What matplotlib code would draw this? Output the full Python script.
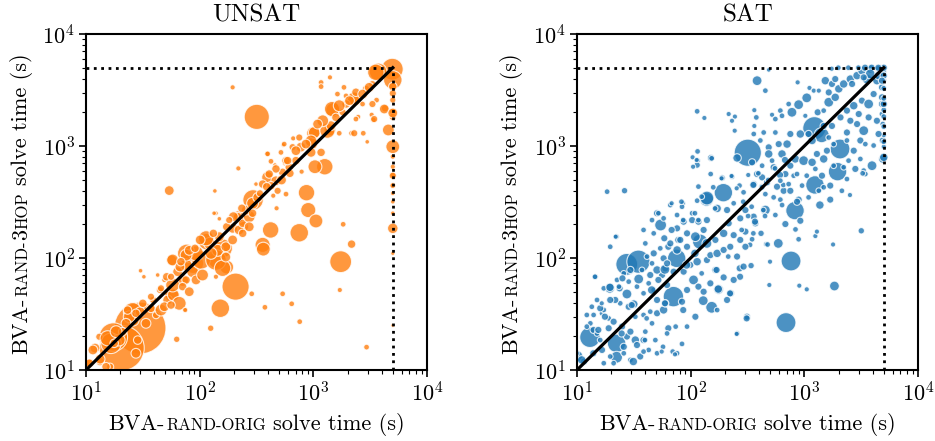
import matplotlib
matplotlib.use('Agg')
import matplotlib.pyplot as plt
import matplotlib.transforms as mtransforms

plt.rcParams['font.family'] = 'serif'
plt.rcParams['font.serif'] = ['cmr10']
plt.rcParams['mathtext.fontset'] = 'cm'
plt.rcParams['axes.formatter.use_mathtext'] = True
plt.rcParams['axes.unicode_minus'] = False

timeout = 5000

# solve times (s) per instance, marker area ~ instance size
unsat_x = [29.9, 20.6, 17.4, 318, 207, 1740, 152, 752, 421, 358, 363, 871, 902, 1054, 1260, 1033, 295, 115, 141, 88,
           77, 161, 173, 56.7, 70.8, 56.7, 54, 5000, 4570, 5000, 4950, 3720, 5000, 1500, 2240, 998, 966, 1400, 219, 242,
           26, 12, 10.8, 13.3, 16.3,
           5000, 5000, 5000, 5000, 5000, 5000, 5000, 5000, 5000, 5000, 5000, 5000, 5000, 5000,
           4270, 3260, 195, 1400, 1170, 1170, 2980, 1830, 2170, 1710, 2940, 759, 645, 537, 375, 287, 125, 62.8, 32.3, 30.2,
           74.2, 136, 139, 219, 313, 394, 459, 543, 563, 665, 789, 475, 444, 2170, 2750, 1690, 2480, 3370, 3600,
           16.6, 13.1, 11.5, 25.7, 24, 23.2, 19.6, 33.7, 37.3, 41.3, 45.7, 52.3, 58.7, 66.1, 75.9, 57.8, 86.7, 64, 75.9, 103,
           92.7, 57.8, 75.9, 81, 139, 159, 122, 144, 114, 170, 149, 195, 222, 239, 273, 257, 216, 292, 42.7, 48.9,
           74.6, 139, 134, 149, 13.3, 10.7, 15, 27.5, 28.5, 21,
           3550, 4210, 5000, 5000, 5000, 1460, 2290, 1020, 1330, 955, 396, 468, 537, 614, 703, 777, 955, 1170, 1430, 1580,
           1810, 1940, 2370, 2900, 3310, 1860, 1630, 1940, 3310, 2710, 3430, 2370, 2290, 752, 657, 554, 519, 396, 424, 575,
           358, 424, 485, 575, 324,
           198, 235, 339, 389, 525, 622, 173, 101, 132, 91, 67, 51.3, 44.7, 39, 29.9,
           15.5, 18.4, 48.9, 56, 70.8, 81, 92.9, 106, 126, 170, 195, 239, 273, 182, 292, 68.4, 56, 45.7, 37.3, 31.6,
           27.5, 22.5, 17.7,
           1210, 1090, 1690, 2080, 2720, 3100, 861, 703, 594, 469, 409]
unsat_y = [23.7, 15.7, 19.7, 1820, 55.5, 92.7, 35.6, 168, 178, 131, 120, 383, 268, 214, 653, 653, 330, 140, 95.5, 89.8,
           110, 122, 83, 46.8, 63, 95.5, 400, 986, 1390, 184, 4850, 4590, 3890, 2090, 2570, 1300, 1050, 1390, 234, 190,
           27.9, 15.7, 11.5, 11.9, 10.7,
           3390, 2950, 2570, 2020, 1820, 804, 653, 550, 447, 378, 318, 251, 110, 25,
           2170, 1900, 3340, 4100, 3690, 3390, 1090, 200, 133, 51.8, 16, 27, 39, 47.9, 36.3, 47.9, 23.6, 18.8, 68, 77,
           34.7, 397, 251, 631, 457, 851, 676, 1020, 700, 1170, 590, 278, 360, 1300, 1300, 1300, 1820, 1710, 2570,
           17.3, 19.8, 15.1, 33.1, 29.9, 34.3, 18.5, 26.1, 35.5, 30.9, 34.3, 42.2, 46.8, 39.4, 63.6, 57.4, 75.5, 75.5, 87, 96,
           110, 96, 106, 117, 96, 81, 135, 117, 150, 126, 155, 184, 178, 204, 234, 268, 234, 308, 70.5, 63.6,
           34.3, 68, 251, 224, 12.5, 11.5, 10.7, 14.1, 18.5, 22,
           4550, 2140, 1970, 543, 443, 2140, 2630, 1320, 1370, 1110, 525, 489, 582, 646, 741, 977, 877, 877, 1520, 1800,
           2000, 2370, 3020, 3240, 3570, 3340, 2910, 2800, 2370, 2370, 1740, 1740, 1300, 1190, 977, 1040, 877, 851, 730, 741,
           457, 442, 398, 372, 347,
           234, 278, 378, 433, 497, 570, 190, 145, 166, 122, 83.2, 68, 51.8, 42.2, 33.1,
           19.2, 22, 36.7, 38, 55.5, 50, 63.7, 70.5, 110, 102, 145, 166, 190, 218, 251, 92.7, 68, 53.6, 45.1, 39.4,
           32.1, 26.1, 17.3,
           1680, 1570, 2290, 2540, 2910, 3340, 1040, 908, 741, 624, 562]
unsat_s = [1294, 972, 368, 282, 332, 207, 144, 144, 111, 92, 75, 111, 92, 75, 111, 75, 180, 111, 111, 180,
           144, 144, 75, 75, 52, 39, 33, 75, 52, 39, 207, 130, 144, 92, 52, 66, 52, 52, 52, 39,
           52, 33, 23, 23, 15,
           23, 15, 10, 15, 15, 6, 6, 8, 6, 4, 4, 4, 3, 2,
           15, 6, 6, 6, 8, 8, 4, 8, 23, 6, 8, 8, 8, 8, 8, 8, 11, 11, 4, 4,
           4, 4, 4, 6, 4, 6, 4, 4, 6, 6, 6, 6, 6, 8, 8, 8, 6, 8, 8,
           180, 15, 33, 144, 52, 23, 52, 33, 23, 15, 52, 33, 52, 75, 23, 75, 52, 33, 52, 144,
           92, 52, 52, 33, 180, 111, 52, 52, 92, 33, 33, 33, 33, 23, 52, 33, 23, 52, 4, 6,
           6, 6, 4, 4, 33, 23, 23, 33, 23, 23,
           111, 33, 33, 15, 8, 92, 75, 52, 92, 52, 52, 33, 23, 23, 23, 33, 33, 23, 33, 23,
           15, 23, 23, 15, 15, 8, 8, 8, 15, 8, 15, 8, 15, 15, 15, 8, 8, 8, 8, 23,
           23, 23, 15, 8, 33,
           33, 23, 15, 23, 33, 23, 23, 33, 23, 23, 33, 23, 15, 15, 33,
           92, 52, 33, 23, 23, 33, 33, 52, 52, 33, 33, 23, 33, 15, 23, 23, 15, 15, 15, 23,
           23, 33, 23,
           52, 33, 52, 33, 33, 33, 33, 33, 23, 23, 23]

sat_x = [318, 1225, 1420, 2060, 1960, 1240, 828, 764, 690, 1840, 27.4, 34.7, 13, 22.3, 22.3, 70.5, 75.3, 121, 194, 138,
         54.4, 153, 129, 590, 1370,
         18.4, 26.2, 114, 132, 216, 245, 231, 244, 115, 104, 115, 114, 151, 256, 189, 231, 269, 158, 114, 85.7,
         139, 292,
         384, 454, 486, 873, 1110, 1210, 1340, 1530, 1750, 1050, 891, 728, 615, 520, 363, 378, 363, 556, 636, 778,
         1020, 1310, 1640, 1870, 2010, 2220, 2540, 2910, 3210, 3800, 4500, 3560, 4350, 4820, 4070, 3210, 2720, 3680, 4820, 4820,
         4820, 4900, 4900, 4900, 3940, 3330, 3110, 2720, 3330, 2910, 2370, 2540, 2080, 1750, 1480, 922, 753, 705, 595, 486,
         486, 636, 832, 986, 1170, 1290, 1580, 1480, 753, 681, 537, 520, 384, 425, 470, 359, 575, 658, 753, 955,
         1690, 2140, 2370, 891, 1690, 615, 454, 3440,
         10, 11.5, 14, 16, 16.6, 19, 19.6, 22.2, 24.9, 27.5, 29.5, 32.6, 33.7, 38.5, 39.9, 19.6, 17.2, 29.5, 36, 42.7,
         50.6, 57.1, 69.5, 75.9, 83.9, 73.8, 45.7, 50.6, 57.8, 38.5, 44.1, 32.6, 28.5, 24, 21.7, 17.2, 14, 13.1, 19.4, 27.5,
         31.6, 22.5, 14.5, 17.2, 33.7, 38.5, 42.7, 47.3, 34.9, 56, 62, 50.6, 59.8, 83.9, 92.9, 106, 117, 130, 176, 165,
         195, 226, 270, 313, 256, 86.7, 99.3, 114, 139, 149, 171, 195, 223, 273, 303, 239, 195, 165, 139, 110,
         92.9, 75.9, 86.7, 103, 117, 103, 75.9, 83.9, 66.2, 50.6, 38.5, 39.9, 41.3, 47.3, 57.8, 50.6, 59.8, 44.1, 29.5, 25.8,
         23.7, 16, 12.2, 15, 25.8, 21, 209, 171, 239,
         3170, 922, 416, 347, 460, 499, 340, 836, 891, 1250, 1290, 1790, 492, 903, 1050, 313, 454, 358, 371, 681,
         637, 556, 863, 320,
         9.6, 31.3, 14.4, 16.5, 19.5, 21.9, 52, 25.1, 23.4, 41, 39.6, 55.6, 72.8, 125, 214, 169, 175, 222, 272, 311,
         254, 475, 2520, 3260,
         5000, 5000, 5000, 5000, 5000, 5000, 5000, 5000, 5000, 5000, 5000, 5000, 5000,
         2990, 3420, 3910, 4480, 2440, 1990, 1740,
         150, 187, 229, 254, 321, 356, 394, 421, 482, 552, 611, 676, 653, 117, 109, 86, 68, 83, 68, 77.8,
         63.6, 290, 344, 436, 368, 451, 281, 333, 356, 117, 125, 164, 105, 113, 153,
         347, 425, 615, 806, 1050, 1430, 1480, 2450, 2220, 2810, 3110, 3440, 2370, 1810, 1640, 1170, 1090, 1480, 2370, 3010,
         3680, 4350, 4500, 4070, 3800, 4500, 3330, 2630, 1870, 1640, 4990, 4820,
         109, 92, 59.4, 52, 45.4, 59.4, 86, 63.6, 30.3, 17.6, 15.4, 13.9, 11, 24.7,
         47.3, 58.6, 66.2, 75.9, 81, 92.9, 54, 62, 70.8, 45.7, 37.3, 28.5, 19.6, 15, 13.5, 12.2, 19, 21, 16.6, 25.8,
         38.5, 48.9, 62, 92.9, 110, 171, 209, 149, 239, 292, 256, 303, 216, 273, 303, 139, 130, 57.8, 45.7,
         359, 410, 439, 556, 425, 537, 728, 1090, 1340, 862, 1250, 1810]
sat_y = [871, 1440, 1250, 940, 590, 449, 265, 94, 26.5, 56.2, 87.8, 92.7, 19.6, 17.3, 13, 45.2, 99.3, 140, 383, 334,
         197, 36.3, 41.6, 135, 297,
         391, 399, 2040, 1780, 1930, 1830, 1680, 1370, 895, 793, 740, 676, 782, 782, 518, 532, 443, 428, 325, 308,
         343, 386,
         3830, 3120, 4780, 3700, 3300, 3120, 3120, 3830, 3580, 2690, 2340, 2370, 2070, 1900, 2090, 1800, 1510, 1740, 1860, 2000,
         1860, 2000, 2460, 2720, 3240, 3580, 3960, 4250, 4710, 4870, 4870, 3960, 3830, 3340, 2910, 2540, 2290, 2370, 2720, 2370,
         1930, 1570, 1120, 766, 667, 603, 766, 908, 1370, 1570, 1320, 1680, 1800, 1510, 1510, 1280, 1280, 1040, 1040, 973,
         849, 849, 766, 740, 715, 849, 908, 766, 667, 562, 646, 740, 562, 525, 474, 457, 433, 398, 398, 443,
         443, 398, 507, 332, 332, 332, 372, 562,
         13.2, 11.9, 22.8, 18.5, 32.1, 28.9, 126, 155, 24.4, 19.9, 22, 18.5, 16.7, 18.5, 22, 13.2, 11.5, 12.3, 13.2, 15.1,
         14.1, 16.1, 14.6, 14.1, 17.1, 24.4, 26.1, 32.1, 34.4, 31, 33.2, 29.9, 36.7, 39.4, 42.2, 34.4, 31, 26.1, 53.6, 47.7,
         38.8, 63.7, 68, 53.6, 55.5, 48.4, 59.4, 51.8, 64.9, 70.5, 57.4, 42.2, 39.4, 40.7, 51.8, 63.7, 55.5, 50, 52.5, 78.2,
         67.1, 48.4, 80.9, 29.9, 21.2, 75.5, 86.7, 92.7, 95.9, 106, 110, 118, 126, 145, 172, 160, 166, 145, 135, 155,
         166, 184, 211, 218, 211, 251, 242, 287, 297, 251, 178, 135, 103, 110, 99.3, 78.2, 80.9, 70.5, 78.2, 72.9,
         53.6, 35.6, 24.4, 21.2, 14.1, 11.5, 268, 277, 308,
         175, 215, 166, 147, 133, 92.7, 85.5, 180, 147, 157, 172, 132, 57.4, 56.6, 52.5, 29.3, 268, 234, 204, 201,
         297, 242, 318, 237,
         14.1, 11.9, 68, 39.4, 54.7, 155, 251, 65.8, 55.5, 28.9, 18.5, 14.6, 13.8, 72.9, 103, 78.2, 52.8, 48.3, 68, 28.9,
         21, 132, 365, 570,
         792, 985, 1090, 1250, 1490, 1830, 2100, 2370, 2660, 3270, 3880, 4610, 5000,
         5000, 5000, 5000, 5000, 5000, 5000, 4900,
         562, 514, 540, 419, 551, 449, 570, 434, 497, 631, 551, 750, 449, 218, 251, 218, 178, 318, 308, 145,
         126, 318, 287, 268, 211, 237, 178, 131, 166, 434, 353, 277, 653, 750, 776,
         715, 667, 490, 543, 543, 543, 428, 740, 646, 624, 1120, 1040, 1120, 1040, 1190, 1120, 1280, 2070, 2070, 1930,
         1800, 1680, 1280, 1010, 4400, 4250, 4100, 3580, 3960, 3010, 4250, 3830,
         110, 86.6, 79.2, 63.7, 51.8, 39.4, 34.3, 23.6, 38, 29.9, 22.8, 14.1, 12.3, 21.2,
         166, 150, 135, 118, 145, 126, 122, 89.6, 75.5, 89.6, 78.2, 61.5, 42.2, 42.2, 36.7, 31, 23.6, 27, 15.1, 16.1,
         14.6, 18.5, 21.2, 24.4, 29.9, 34.3, 42.2, 59.4, 63.7, 83.8, 103, 126, 204, 226, 268, 218, 178, 226, 218,
         1280, 1120, 1320, 1320, 428, 348, 457, 348, 399, 562, 624, 667]
sat_s = [333, 237, 92, 168, 143, 143, 143, 168, 168, 33, 207, 237, 180, 143, 52, 180, 143, 92, 143, 75,
         52, 52, 33, 33, 23,
         8, 11, 8, 6, 6, 6, 6, 6, 8, 6, 8, 11, 15, 23, 11, 8, 8, 8, 8, 6,
         75, 8,
         33, 8, 4, 6, 6, 6, 6, 23, 15, 33, 33, 8, 8, 6, 6, 8, 6, 8, 8, 33,
         6, 15, 33, 23, 23, 23, 23, 23, 23, 23, 15, 33, 23, 15, 15, 15, 23, 33, 15, 15,
         8, 8, 15, 23, 33, 8, 8, 15, 33, 15, 15, 15, 15, 15, 15, 23, 15, 23, 15, 15,
         23, 23, 23, 33, 23, 15, 15, 23, 15, 15, 15, 8, 15, 15, 15, 15, 15, 15, 15, 8,
         15, 8, 8, 15, 15, 8, 8, 8,
         52, 15, 15, 8, 8, 8, 8, 8, 15, 15, 15, 23, 15, 15, 8, 8, 8, 8, 15, 8,
         8, 8, 8, 8, 8, 8, 8, 15, 23, 8, 8, 8, 15, 8, 15, 8, 8, 8, 33, 33,
         23, 8, 8, 8, 8, 8, 8, 8, 33, 15, 15, 15, 15, 15, 15, 33, 15, 15, 33, 15,
         15, 15, 15, 15, 8, 15, 15, 23, 15, 15, 23, 15, 15, 15, 15, 15, 23, 15, 33, 33,
         15, 15, 15, 15, 15, 8, 8, 8, 8, 15, 8, 8, 8, 15, 15, 23, 15, 15, 15, 8,
         15, 15, 8, 8, 8, 8, 15, 23, 8,
         11, 15, 11, 8, 6, 6, 11, 8, 8, 6, 6, 6, 6, 6, 6, 6, 33, 15, 15, 15,
         8, 8, 15, 8,
         23, 23, 8, 6, 23, 6, 8, 15, 8, 8, 8, 6, 6, 8, 8, 15, 23, 15, 15, 15,
         6, 8, 6, 8,
         23, 6, 8, 6, 8, 8, 8, 15, 8, 8, 8, 8, 15,
         8, 15, 15, 15, 8, 8, 6,
         8, 6, 6, 6, 6, 15, 8, 8, 8, 8, 15, 15, 8, 8, 8, 8, 15, 8, 6, 15,
         15, 8, 8, 8, 15, 8, 8, 8, 8, 8, 8, 8, 6, 6, 8,
         15, 8, 8, 8, 8, 15, 8, 8, 8, 15, 15, 8, 8, 8, 8, 23, 15, 8, 15, 15,
         15, 15, 15, 8, 33, 23, 15, 15, 15, 15, 15, 15,
         23, 23, 33, 15, 23, 15, 15, 15, 15, 15, 15, 15, 23, 15,
         8, 15, 15, 23, 15, 15, 8, 15, 15, 8, 8, 8, 15, 8, 8, 8, 15, 15, 15, 15,
         8, 8, 8, 8, 15, 8, 15, 15, 15, 15, 15, 15, 15, 15, 15, 15, 15, 8, 8,
         8, 8, 8, 8, 8, 8, 8, 8, 8, 8, 8, 8]


def draw_panel(ax, x, y, s, color, title):
    # marker area grown by the white edge so the filled part keeps its size
    area = [(v ** 0.5 + 1.3) ** 2 for v in s]
    ax.scatter(x, y, s=area, c=color, alpha=0.8, edgecolors='white', linewidths=0.8, zorder=2)
    ax.plot([10, timeout], [10, timeout], color='black', lw=2.3, zorder=3)
    ax.plot([10, timeout], [timeout, timeout], color='black', ls=':', lw=2, zorder=3)
    ax.plot([timeout, timeout], [10, timeout], color='black', ls=':', lw=2, zorder=3)

    ax.set_xscale('log')
    ax.set_yscale('log')
    ax.set_xlim(10, 1e4)
    ax.set_ylim(10, 1e4)
    ax.set_title(title, fontsize=18, pad=9)

    for sp in ax.spines.values():
        sp.set_linewidth(1.5)
    ax.tick_params(which='major', direction='out', length=5, width=1.2, labelsize=16, pad=3)
    ax.tick_params(which='minor', direction='out', length=3, width=0.8)


def smallcaps_label(fig, renderer, pieces, cx, cy, vertical=False):
    # pieces are (text, fontsize, gap before in px); label is centred on (cx, cy), the baseline, in pixels
    texts = []
    for txt, size, gap in pieces:
        t = fig.text(0, 0, txt, fontsize=size, rotation=90 if vertical else 0, rotation_mode='anchor',
                     ha='left', va='baseline', transform=mtransforms.IdentityTransform())
        bb = t.get_window_extent(renderer)
        texts.append((t, gap, bb.height if vertical else bb.width))
    total = sum(g + l for _, g, l in texts)
    pos = (cy if vertical else cx) - total / 2.0
    for t, gap, length in texts:
        pos += gap
        t.set_position((cx, pos) if vertical else (pos, cy))
        pos += length


fig = plt.figure(figsize=(9.35, 4.41), dpi=100)
ax1 = fig.add_axes([86 / 935, 71 / 441, 341 / 935, 336 / 441])
ax2 = fig.add_axes([577 / 935, 71 / 441, 341 / 935, 336 / 441])

draw_panel(ax1, unsat_x, unsat_y, unsat_s, '#ff7f0e', 'UNSAT')
draw_panel(ax2, sat_x, sat_y, sat_s, '#1f77b4', 'SAT')

fig.canvas.draw()
renderer = fig.canvas.get_renderer()

xlabel = [('BVA-', 16, 0), ('RAND-ORIG', 12, 1.5), ('solve time (s)', 16, 7)]
ylabel = [('BVA-', 16, 0), ('RAND-', 12, 1.5), ('3', 16, 0.5), ('HOP', 12, 0.5), ('solve time (s)', 16, 7)]

smallcaps_label(fig, renderer, xlabel, 256.5, 441 - 430)
smallcaps_label(fig, renderer, xlabel, 747.5, 441 - 430)
smallcaps_label(fig, renderer, ylabel, 27, 441 - 204, vertical=True)
smallcaps_label(fig, renderer, ylabel, 517, 441 - 204, vertical=True)

fig.savefig('out.png', dpi=100)
